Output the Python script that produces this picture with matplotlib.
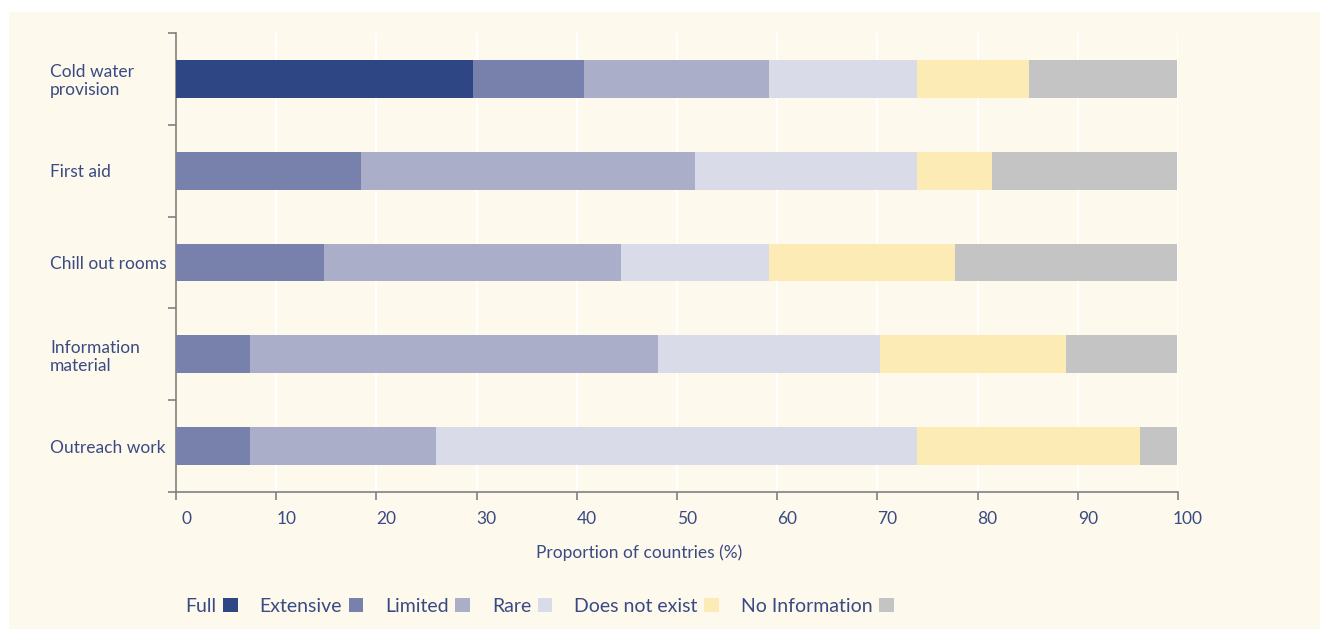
import numpy as np
import matplotlib.pyplot as plt
import matplotlib.transforms as mtransforms
from matplotlib.patches import Patch, Rectangle

categories = ['Cold water\nprovision', 'First aid', 'Chill out rooms',
              'Information\nmaterial', 'Outreach work']
levels = ['Full', 'Extensive', 'Limited', 'Rare', 'Does not exist', 'No Information']
full = [29.6, 0.0, 0.0, 0.0, 0.0]
extensive = [11.1, 18.5, 14.8, 7.4, 7.4]
limited = [18.5, 33.3, 29.6, 40.7, 18.5]
rare = [14.8, 22.2, 14.8, 22.2, 48.1]
does_not_exist = [11.1, 7.4, 18.5, 18.5, 22.2]
no_information = [14.8, 18.5, 22.2, 11.1, 3.7]
colors = ['#2E4784', '#7880AC', '#AAAEC9', '#D9DBE8', '#FDEBB5', '#C4C4C4']

txt = '#3A4A85'
bg = '#FDF9EC'
plt.rcParams['font.family'] = ['Lato', 'DejaVu Sans']

fig = plt.figure(figsize=(13.2, 6.29), dpi=100, facecolor='white')
fig.patches.append(Rectangle((9 / 1320, 0), 1, 1 - 12 / 629, transform=fig.transFigure,
                             facecolor=bg, edgecolor='none', zorder=-10))
ax = fig.add_axes([176 / 1320, 1 - 492 / 629, 1002 / 1320, 459 / 629])
ax.set_facecolor(bg)

series = [full, extensive, limited, rare, does_not_exist, no_information]
y = np.arange(len(categories))
left = np.zeros(len(categories))
for vals, lab, c in zip(series, levels, colors):
    ax.barh(y, vals, left=left, height=0.41, color=c, label=lab, zorder=3)
    left += np.array(vals)

ax.set_xlim(0, 100)
ax.set_ylim(len(categories) - 0.5, -0.5)
ax.set_xticks(np.arange(0, 101, 10))
ax.grid(axis='x', color='white', linewidth=1.5, zorder=0)

ax.set_yticks(np.arange(-0.5, len(categories), 1))
ax.set_yticklabels([])
ax.set_yticks(y, minor=True)
ax.set_yticklabels(categories, minor=True, ha='left', fontsize=12.5, color=txt,
                   linespacing=1.15)
ax.tick_params(axis='y', which='minor', length=0, pad=126 * 0.72)
ax.tick_params(axis='y', which='major', length=6, color='#808080', width=1.2)
ax.tick_params(axis='x', length=6, color='#808080', width=1.2, labelsize=12.5,
               labelcolor=txt, pad=8)

off = mtransforms.ScaledTranslation(10 / 100, 0, fig.dpi_scale_trans)
for lb in ax.get_xticklabels():
    lb.set_transform(lb.get_transform() + off)

for s in ['top', 'right']:
    ax.spines[s].set_visible(False)
for s in ['left', 'bottom']:
    ax.spines[s].set_color('#808080')
    ax.spines[s].set_linewidth(1.2)

ax.set_xlabel('Proportion of countries (%)', fontsize=12.5, color=txt)
ax.xaxis.set_label_coords(0.462, -0.115)

handles = [Patch(facecolor=c, edgecolor='none') for c in colors]
fig.legend(handles, levels, loc='center left', bbox_to_anchor=(185 / 1320, 1 - 606 / 629),
           ncol=6, frameon=False, markerfirst=False, handlelength=0.75, handleheight=0.75,
           handletextpad=0.35, columnspacing=1.12, fontsize=14, labelcolor=txt,
           borderpad=0, borderaxespad=0)

fig.savefig('out.png', dpi=100, facecolor='white')
